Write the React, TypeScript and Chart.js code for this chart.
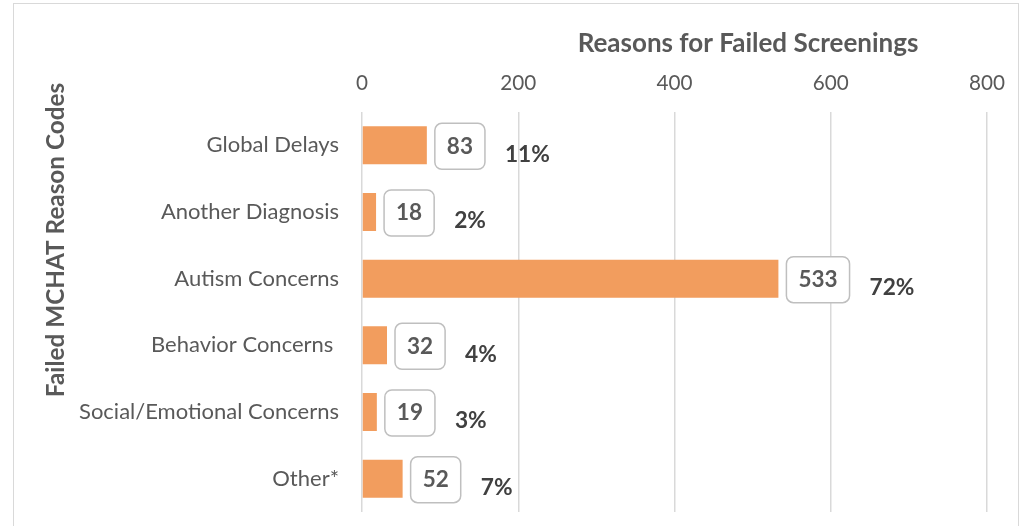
import React, { useEffect, useRef } from "react";
import { Chart, registerables } from "chart.js";

Chart.register(...registerables);

const categories = [
  "Global Delays",
  "Another Diagnosis",
  "Autism Concerns",
  "Behavior Concerns ",
  "Social/Emotional Concerns",
  "Other*",
];
const counts = [83, 18, 533, 32, 19, 52];
const percents = ["11%", "2%", "72%", "4%", "3%", "7%"];
const xMin = 0;
const xMax = 800;
const xStep = 200;
const chartTitle = "Reasons for Failed Screenings";
const yTitle = "Failed MCHAT Reason Codes";

const FONT = "Lato";

const labelPlugin = {
  id: "labels",
  afterDatasetsDraw(chart: any) {
    const ctx = chart.ctx;
    const meta = chart.getDatasetMeta(0);
    ctx.save();
    meta.data.forEach((bar: any, i: number) => {
      const txt = String(counts[i]);
      ctx.font = `bold 22.5px ${FONT}`;
      const tw = ctx.measureText(txt).width;
      const bw = tw + 24;
      const bh = 46;
      const left = bar.x + 8;
      const top = bar.y - bh / 2 + 1;
      ctx.beginPath();
      ctx.roundRect(left, top, bw, bh, 7);
      ctx.fillStyle = "#ffffff";
      ctx.fill();
      ctx.lineWidth = 1.5;
      ctx.strokeStyle = "#BFBFBF";
      ctx.stroke();
      ctx.fillStyle = "#595959";
      ctx.textAlign = "center";
      ctx.textBaseline = "middle";
      ctx.fillText(txt, left + bw / 2, top + bh / 2);
      ctx.font = `bold 22.7px ${FONT}`;
      ctx.fillStyle = "#404040";
      ctx.textAlign = "left";
      ctx.fillText(percents[i], left + bw + 20, bar.y + 9);
    });
    ctx.restore();
  },
  afterDraw(chart: any) {
    const ctx = chart.ctx;
    const area = chart.chartArea;
    ctx.save();
    ctx.fillStyle = "#595959";
    ctx.font = `bold 26px ${FONT}`;
    ctx.textAlign = "center";
    ctx.textBaseline = "middle";
    ctx.fillText(chartTitle, area.right - 239, 44);
    ctx.font = `bold 24.3px ${FONT}`;
    ctx.translate(56, 240);
    ctx.rotate(-Math.PI / 2);
    ctx.fillText(yTitle, 0, 0);
    ctx.restore();
  },
};

export default function App() {
  const ref = useRef<HTMLCanvasElement>(null);
  useEffect(() => {
    const chart = new Chart(ref.current!, {
      type: "bar",
      data: {
        labels: categories,
        datasets: [
          {
            data: counts,
            backgroundColor: "#F29D5E",
            barPercentage: 0.57,
            categoryPercentage: 1,
          },
        ],
      },
      options: {
        indexAxis: "y",
        responsive: false,
        animation: false,
        layout: { padding: { left: 0, right: 38, top: 0, bottom: 14 } },
        plugins: { legend: { display: false }, tooltip: { enabled: false } },
        scales: {
          x: {
            position: "top",
            min: xMin,
            max: xMax,
            ticks: {
              stepSize: xStep,
              color: "#595959",
              font: { family: FONT, size: 20.7 },
              padding: 16,
            },
            grid: { color: "#D9D9D9", lineWidth: 1.5, drawTicks: false },
            border: { display: false },
            afterFit(scale: any) {
              scale.height = 112;
            },
          },
          y: {
            ticks: {
              color: "#595959",
              font: { family: FONT, size: 22 },
              padding: 23,
            },
            grid: { display: false, drawTicks: false },
            border: { display: false },
            afterFit(scale: any) {
              scale.width = 362;
              scale.paddingTop = 0;
              scale.paddingBottom = 0;
            },
          },
        },
      },
      plugins: [labelPlugin],
    });
    return () => chart.destroy();
  }, []);
  return (
    <div style={{ position: "fixed", left: 0, top: 0, width: 1025, height: 526, background: "#fff", overflow: "hidden" }}>
      <canvas ref={ref} width={1025} height={526} style={{ display: "block" }} />
      <div style={{ position: "absolute", left: 13, top: 3, width: 1004, height: 600, border: "1.5px solid #D9D9D9", pointerEvents: "none" }} />
    </div>
  );
}
